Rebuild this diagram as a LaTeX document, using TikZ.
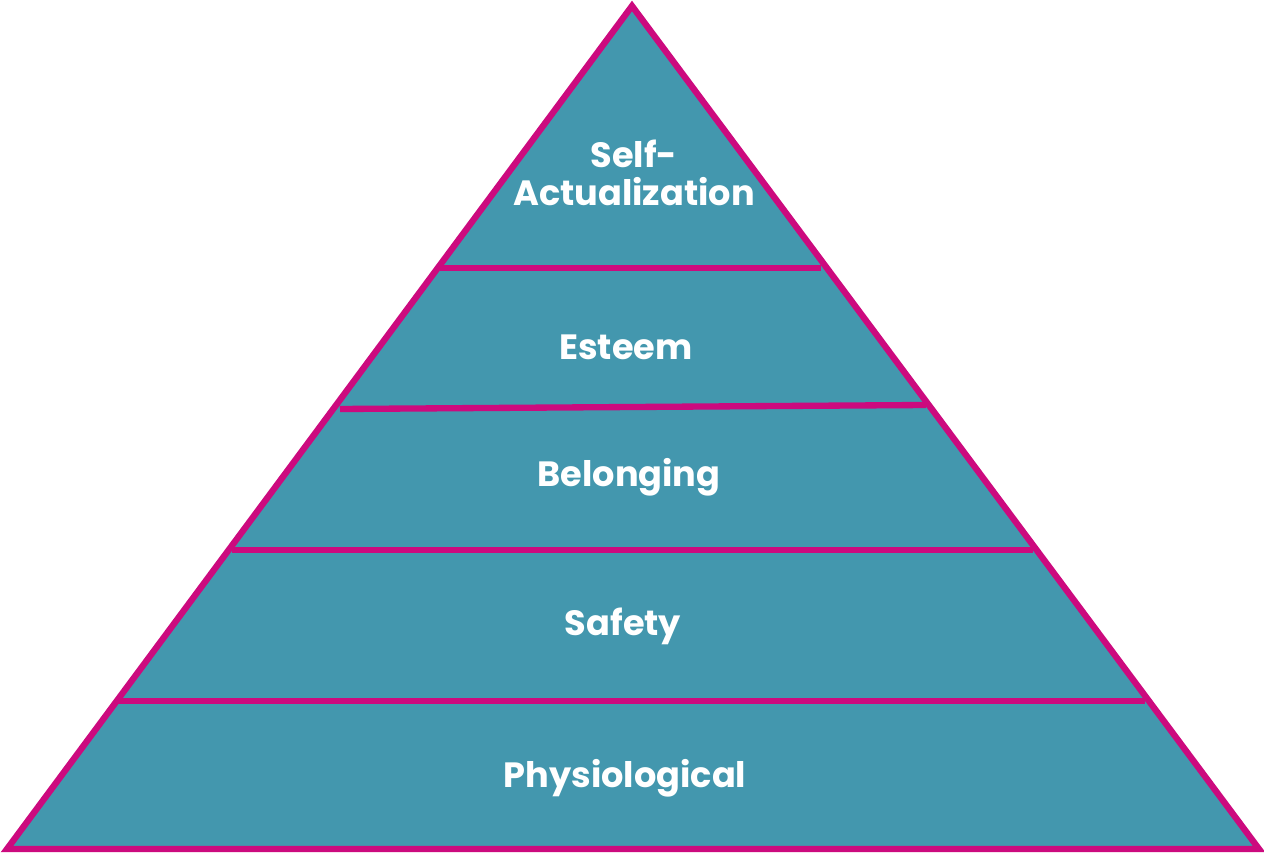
\documentclass[tikz,border=0pt]{standalone}
\usepackage{fontspec}
\setmainfont{Poppins}
\usepackage{xcolor}
\usepackage{tikz}
\usetikzlibrary{positioning,calc}

\definecolor{levelfill}{HTML}{4397AE}
\definecolor{levelline}{HTML}{CC0A7E}

\begin{document}
\begin{tikzpicture}[
    x=0.02cm, y=-0.02cm,
    outline/.style={draw=levelline, line width=3.6pt, fill=levelfill, line join=miter},
    divider/.style={draw=levelline, line width=3.6pt},
    label/.style={text=white, font=\fontsize{20}{24}\selectfont\bfseries, align=center, inner sep=0pt}
]
\useasboundingbox (0,0) rectangle (1264,854);

% Pyramid outline
\path[outline] (632,6) -- (1259,849) -- (7,849) -- cycle;

% Level dividers
\draw[divider] (440,268) -- (821,268);
\draw[divider] (340,409) -- (926,405);
\draw[divider] (232,550) -- (1033,550);
\draw[divider] (118,701) -- (1145,701);

% Level names
\node[label] (selfact) at (634,173) {Self-\\[-2pt]Actualization};
\node[label] (esteem) at (626,347) {Esteem};
\node[label] (belong) at (629,477) {Belonging};
\node[label] (safety) at (623,626) {Safety};
\node[label] (physio) at (625,778) {Physiological};

\end{tikzpicture}
\end{document}
